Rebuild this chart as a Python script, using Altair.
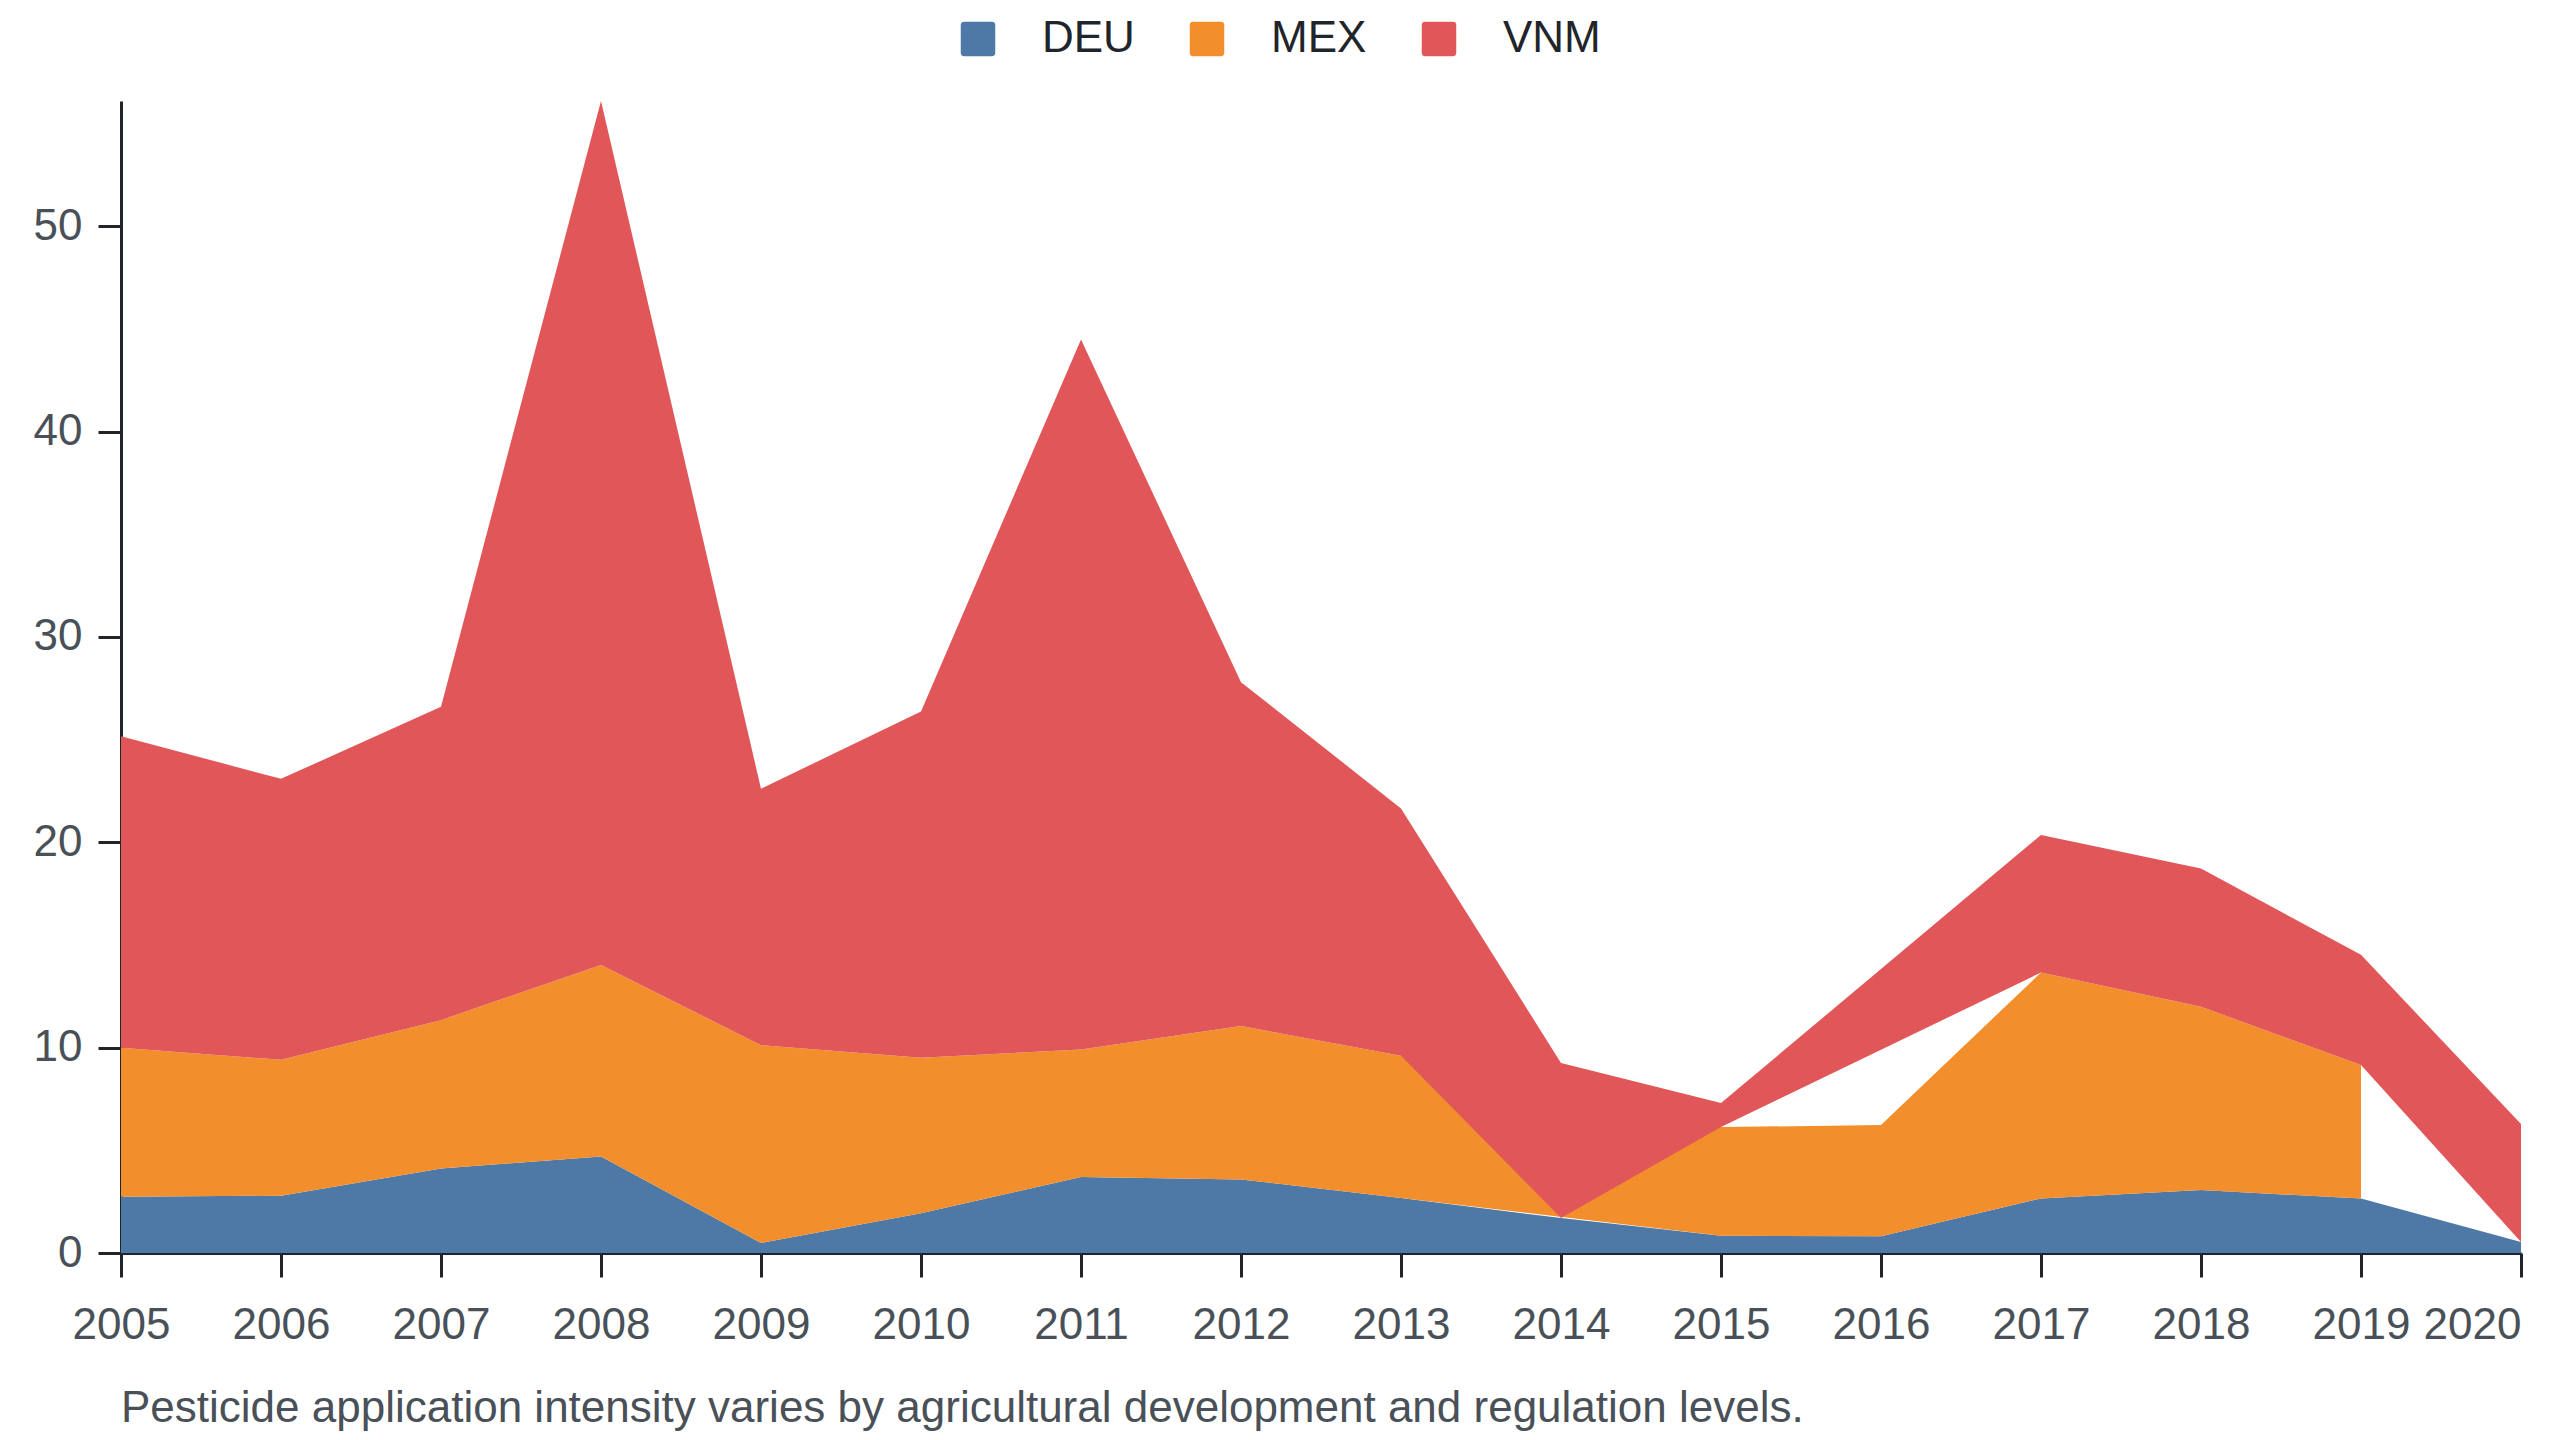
import altair as alt
import pandas as pd

years = [2005, 2006, 2007, 2008, 2009, 2010, 2011, 2012, 2013, 2014, 2015, 2016, 2017, 2018, 2019, 2020]
countries = ["DEU", "MEX", "VNM"]
deu = [2.74, 2.79, 4.12, 4.70, 0.49, 1.93, 3.70, 3.58, 2.68, 1.70, 0.84, 0.81, 2.66, 3.07, 2.65, 0.54]
mex = [7.25, 6.62, 7.22, 9.33, 9.63, 7.58, 6.21, 7.47, 6.92, None, 5.29, 5.42, 11.00, 8.92, 6.51, None]
vnm = [15.18, 13.68, 15.26, 42.07, 12.49, 16.86, 34.58, 16.75, 12.05, 7.55, 1.17, None, 6.70, 6.73, 5.36, 5.74]
colors = ["#4e79a7", "#f28e2c", "#e15759"]
caption = "Pesticide application intensity varies by agricultural development and regulation levels."

rows = []
for name, series in zip(countries, [deu, mex, vnm]):
    for yr, v in zip(years, series):
        if v is not None:
            rows.append({"year": yr, "country": name, "value": v})
df = pd.DataFrame(rows)

FONT = "Liberation Sans"

rounded_square = ("M-0.8,-1 L0.8,-1 Q1,-1 1,-0.8 L1,0.8 Q1,1 0.8,1 L-0.8,1 "
                  "Q-1,1 -1,0.8 L-1,-0.8 Q-1,-1 -0.8,-1 Z")

chart = alt.Chart(df).transform_stack(
    stack="value", groupby=["year"], as_=["v0", "v1"],
    sort=[alt.SortField("country", order="ascending")],
).mark_area(opacity=1).encode(
    x=alt.X("year:Q",
            scale=alt.Scale(domain=[years[0], years[-1]], nice=False, zero=False),
            axis=alt.Axis(values=years, format="d", title=None, grid=False,
                          labelFontSize=44, labelFont=FONT, labelColor="#495057",
                          labelPadding=26, tickSize=24, tickWidth=3, tickColor="#212529",
                          domainWidth=3, domainColor="#212529",
                          labelAlign=alt.expr("datum.value == 2020 ? 'right' : 'center'"))),
    y=alt.Y("v1:Q",
            scale=alt.Scale(nice=False, zero=True),
            axis=alt.Axis(values=[0, 10, 20, 30, 40, 50], title=None, grid=False,
                          labelFontSize=44, labelFont=FONT, labelColor="#495057",
                          labelPadding=16, tickSize=23, tickWidth=3, tickColor="#212529",
                          domainWidth=3, domainColor="#212529")),
    y2="v0:Q",
    color=alt.Color("country:N",
                    scale=alt.Scale(domain=countries, range=colors),
                    legend=alt.Legend(title=None, orient="none", direction="horizontal",
                                      legendX=835, legendY=-84,
                                      symbolType=rounded_square, symbolSize=1190,
                                      symbolStrokeWidth=0,
                                      labelFontSize=44, labelFont=FONT, labelColor="#212529",
                                      labelOffset=42, columnPadding=50, padding=0)),
).properties(
    width=2400,
    height=1152,
    padding={"left": 113, "top": 93, "right": 31, "bottom": 179},
    autosize=alt.AutoSizeParams(type="none"),
    background="white",
    title=alt.TitleParams(caption, orient="bottom", anchor="start", frame="group",
                          fontSize=44, font=FONT, fontWeight="normal",
                          color="#495057", offset=40),
).configure_view(stroke=None)

chart.save("out.html", embed_options={"renderer": "svg", "actions": False})
